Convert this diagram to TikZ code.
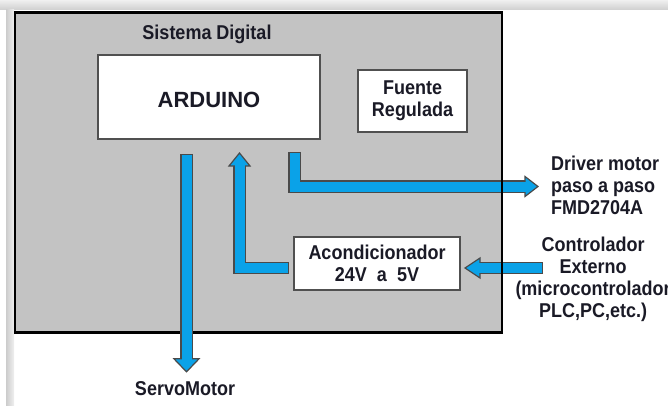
\documentclass[tikz,border=0pt]{standalone}
\usepackage{fontspec}
\setmainfont{Liberation Sans}[FakeStretch=0.9]
\newfontfamily\ardfont{Liberation Sans}
\usetikzlibrary{calc}
\definecolor{boxgray}{HTML}{C3C3C3}
\definecolor{arrowblue}{HTML}{0AA2E8}
\definecolor{arrowedge}{HTML}{4A4A4A}
\definecolor{txt}{HTML}{1A1A26}
\definecolor{boxedge}{HTML}{505050}
\begin{document}
\begin{tikzpicture}[x=1pt,y=-1pt,
  lbl/.style={font=\fontsize{20}{22}\selectfont\bfseries, text=txt, inner sep=0pt, align=center},
  sysbox/.style={fill=boxgray, draw=none, outer sep=0pt, inner sep=0pt, minimum width=487pt, minimum height=320pt},
  sysedge/.style={draw=black, line width=2.6pt},
  whitebox/.style={fill=white, draw=boxedge, line width=1.4pt, inner sep=0pt, outer sep=0pt},
  shaftout/.style={draw=arrowedge, line width=12.4pt, line join=miter},
  shaftin/.style={draw=arrowblue, line width=10pt, line join=miter},
  headst/.style={fill=arrowblue, draw=arrowedge, line width=1.2pt, line join=miter},
]
\useasboundingbox (0,0) rectangle (668,406);
\clip (0,0) rectangle (668,406);
% page shadow
\shade[top color=gray!12, bottom color=gray!38] (0,0) rectangle (668,10);
\shade[left color=gray!40, right color=gray!12] (6,10) rectangle (14,406);

% system box
\node[sysbox] (sys) at (258.5,172.5) {};
\node[lbl, anchor=base] (sysl) at (207,40) {Sistema Digital};

\node[whitebox, minimum width=222pt, minimum height=84pt,
      font=\ardfont\fontsize{22}{24}\selectfont\bfseries, text=txt,
      text height=22pt, text depth=0pt] (ard) at (209,97) {ARDUINO};
\node[whitebox, lbl, minimum width=109pt, minimum height=62pt] (fte) at (412.5,101) {Fuente\\Regulada};
\node[whitebox, lbl, minimum width=166pt, minimum height=53pt] (acd) at (377,263.5) {Acondicionador\\24V\ \ a\ \ 5V};

% outside labels
\node[lbl, align=left, anchor=west] (drv) at (551,185) {Driver motor\\paso a paso\\FMD2704A};
\node[lbl] (ctl) at (593,279.5) {Controlador\\Externo\\(microcontrolador\\PLC,PC,etc.)};
\node[lbl, anchor=base] (srv) at (185,395) {ServoMotor};

% connector end points
\coordinate (srvS) at ($(ard.south)+(-22.5,16)$);
\coordinate (srvE) at ($(srv.north)+(1.5,-9)$);
\coordinate (upS) at ($(acd.west)+(-6,4.5)$);
\coordinate (upE) at ($(ard.south)+(30.5,14)$);
\coordinate (drvS) at ($(ard.south)+(85.5,14)$);
\coordinate (drvE) at ($(drv.west)+(-13,1.5)$);
\coordinate (ctlE) at ($(acd.east)+(5,4.5)$);
\coordinate (ctlS) at ($(ctlE)+(77,0)$);

% arrow to driver
\draw[shaftout, shorten <=-1.2pt] (drvS) |- ($(drvE)+(-13,0)$);
\draw[headst] ($(drvE)+(-13,-10)$) -- (drvE) -- ($(drvE)+(-13,10)$) -- cycle;
\draw[shaftin] (drvS) |- ($(drvE)+(-11,0)$);

% arrow from external controller
\draw[shaftout, shorten <=-1.2pt] (ctlS) -- ($(ctlE)+(15,0)$);
\draw[headst] ($(ctlE)+(15,-10)$) -- (ctlE) -- ($(ctlE)+(15,10)$) -- cycle;
\draw[shaftin] (ctlS) -- ($(ctlE)+(13,0)$);

% system box border
\draw[sysedge] (sys.north west) rectangle (sys.south east);

% arrow from conditioner up to arduino
\draw[shaftout, shorten <=-1.2pt] (upS) -| ($(upE)+(0,13)$);
\draw[headst] ($(upE)+(-10.5,13)$) -- (upE) -- ($(upE)+(10.5,13)$) -- cycle;
\draw[shaftin] (upS) -| ($(upE)+(0,11)$);

% arrow to servo motor
\draw[shaftout, shorten <=-1.2pt] (srvS) -- ($(srvE)+(0,-13)$);
\draw[headst] ($(srvE)+(-12.5,-13)$) -- (srvE) -- ($(srvE)+(12.5,-13)$) -- cycle;
\draw[shaftin] (srvS) -- ($(srvE)+(0,-11)$);
\end{tikzpicture}
\end{document}
